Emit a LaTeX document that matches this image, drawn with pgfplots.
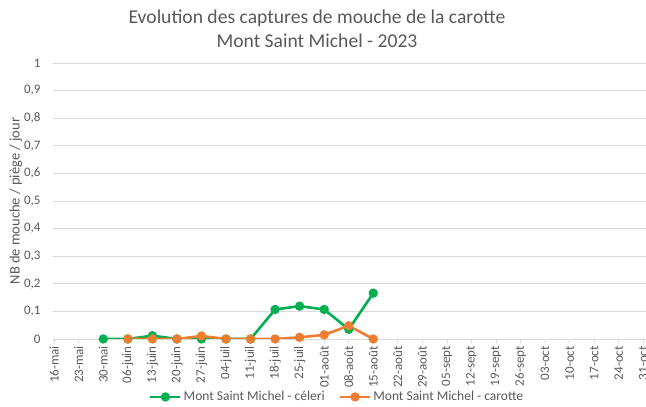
\documentclass[border=0pt]{standalone}
\usepackage{pgfplots}
\pgfplotsset{compat=1.18}
\usepackage{fontspec}
\setmainfont{Carlito}
\definecolor{txt}{HTML}{595959}
\definecolor{gridc}{HTML}{D9D9D9}
\definecolor{cel}{HTML}{00B050}
\definecolor{car}{HTML}{ED7D31}
\begin{document}
\begin{tikzpicture}[x=1pt,y=1pt]
\useasboundingbox (0,0) rectangle (646,407);
\begin{axis}[
  scale only axis, width=597.6pt, height=276pt,
  at={(53pt,68pt)}, anchor=south west,
  xmin=-0.05, xmax=24.3, ymin=0, ymax=1,
  axis lines*=left,
  y axis line style={draw=none},
  x axis line style={draw=gridc, line width=0.8pt},
  ymajorgrids, grid style={draw=gridc, line width=0.8pt},
  xtick={0,...,24},
  xticklabels={16-mai,23-mai,30-mai,06-juin,13-juin,20-juin,27-juin,04-juil,11-juil,18-juil,25-juil,01-août,08-août,15-août,22-août,29-août,05-sept,12-sept,19-sept,26-sept,03-oct,10-oct,17-oct,24-oct,31-oct},
  ytick={0,0.1,0.2,0.3,0.4,0.5,0.6,0.7,0.8,0.9,1},
  yticklabels={0,{0,1},{0,2},{0,3},{0,4},{0,5},{0,6},{0,7},{0,8},{0,9},1},
  xtick style={draw=gridc, line width=0.8pt},
  ytick style={draw=none},
  tick align=outside, major tick length=4pt,
  xticklabel style={rotate=90, anchor=east, font=\fontsize{13}{15}\selectfont, text=txt, inner sep=3pt},
  yticklabel style={font=\fontsize{13}{15}\selectfont, text=txt, xshift=-5pt},
  ylabel={NB de mouche / piège / jour},
  ylabel style={at={(axis description cs:-0.062,0.5)}, anchor=center, font=\fontsize{14.5}{16}\selectfont, text=txt},
  legend style={at={(0.4755,-0.21)}, anchor=center, draw=none, fill=none,
    font=\fontsize{13.5}{15}\selectfont, text=txt,
    /tikz/every even column/.append style={column sep=12pt}},
  legend columns=2,
  legend image code/.code={\draw[mark repeat=2,mark phase=2,#1] plot coordinates {(0pt,0pt) (15pt,0pt) (30pt,0pt)};},
]
\addplot[cel, line width=2.6pt, mark=*, mark size=3.3pt, mark options={solid, fill=cel}] coordinates {
(2,0)(3,0)(4,0.012)(5,0)(6,0)(7,0)(8,0)(9,0.107)(10,0.119)(11,0.107)(12,0.035)(13,0.166)};
\addlegendentry{Mont Saint Michel - céleri}
\addplot[car, line width=2.6pt, mark=*, mark size=3.3pt, mark options={solid, fill=car}] coordinates {
(3,0)(4,0)(5,0)(6,0.011)(7,0)(8,0)(9,0)(10,0.006)(11,0.015)(12,0.048)(13,0)};
\addlegendentry{Mont Saint Michel - carotte}
\end{axis}
\node[align=center, font=\fontsize{19.6}{23.5}\selectfont, text=txt] at (317,378) {Evolution des captures de mouche de la carotte\\Mont Saint Michel - 2023};
\end{tikzpicture}
\end{document}
